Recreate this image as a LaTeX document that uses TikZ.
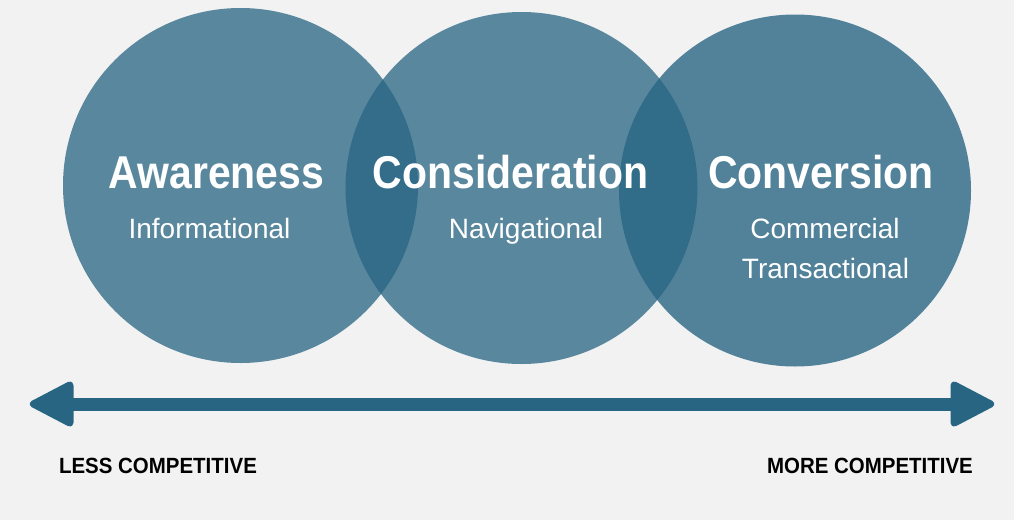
\documentclass[tikz,border=0pt]{standalone}
\usepackage{fontspec}
\setmainfont{Liberation Sans}
\newfontfamily\headfont[FakeStretch=0.89]{Liberation Sans}
\newfontfamily\axisfont[FakeStretch=0.93]{Liberation Sans}
\usepackage{xcolor}
\usepackage{tikz}
\definecolor{stageblue}{RGB}{39,101,131}
\definecolor{pagegray}{RGB}{242,242,242}

\begin{document}
\begin{tikzpicture}[
		x=1pt, y=-1pt,
		stage/.style={circle, fill=stageblue, fill opacity=0.75, minimum size=352pt, inner sep=0pt},
		title/.style={anchor=base, inner sep=0pt, text=white, font=\headfont\bfseries\fontsize{46}{50}\selectfont},
		intent/.style={anchor=base, inner sep=0pt, text=white, font=\fontsize{28}{32}\selectfont},
		axislabel/.style={anchor=base, inner sep=0pt, text=black, font=\axisfont\bfseries\fontsize{22}{26}\selectfont},
		axisline/.style={draw=stageblue, line width=13pt, line cap=round},
		axishead/.style={fill=stageblue, draw=stageblue, line width=3pt, line join=round, rounded corners=4pt}
		]
		\fill[pagegray] (0,0) rectangle (1014,520);
		\node[stage, minimum size=355pt] (aware) at (240.5,185.5) {};
		\node[stage] (consider) at (521.5,188) {};
		\node[stage, fill opacity=0.79] (convert) at (795,190.5) {};
		\node[title] (awaret) at (216.5,188) {Awareness};
		\node[intent] (awarei) at (209.5,238) {Informational};
		\node[title] (considert) at (510.5,188) {Consideration};
		\node[intent] (consideri) at (526,238) {Navigational};
		\node[title] (convertt) at (821,188) {Conversion};
		\node[intent] (converti) at (825,238) {Commercial};
		\node[intent] (convertj) at (825.5,278) {Transactional};
		\coordinate (lessend) at (29,404);
		\coordinate (lessback) at (72,404);
		\coordinate (moreend) at (995,404);
		\coordinate (moreback) at (952,404);
		\draw[axisline] (lessback) -- (moreback);
		\fill[axishead] (lessend) -- ([yshift=-22.5pt]lessback) -- ([yshift=22.5pt]lessback) -- cycle;
		\fill[axishead] (moreend) -- ([yshift=-22.5pt]moreback) -- ([yshift=22.5pt]moreback) -- cycle;
		\node[axislabel] (less) at (158,473) {LESS COMPETITIVE};
		\node[axislabel] (more) at (870,473) {MORE COMPETITIVE};
	\end{tikzpicture}
\end{document}
